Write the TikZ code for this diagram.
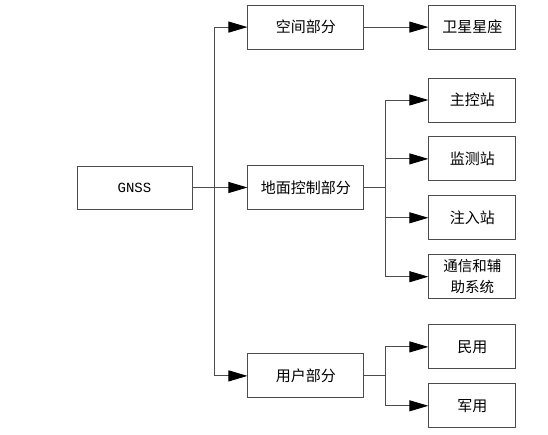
\documentclass[tikz,border=0pt]{standalone}
\usepackage{fontspec}
\setmainfont{Noto Sans CJK SC}
\newfontfamily\latinmono{Liberation Mono}
\usetikzlibrary{positioning,arrows.meta}

\tikzset{
  part/.style={draw=black!70, line width=0.9pt, minimum width=116pt, minimum height=44pt, inner sep=0pt, font=\fontsize{15}{18}\selectfont},
  leaf/.style={part, minimum width=87pt},
  link/.style={draw=black!70, line width=0.9pt, -{Triangle[length=19pt,width=11pt,color=black,fill=black]}},
}

\begin{document}
\begin{tikzpicture}[x=1pt,y=1pt]
  \useasboundingbox (0,0) rectangle (548,435);
  \node[part, minimum width=115pt, minimum height=43pt, font=\latinmono\fontsize{14}{16}\selectfont] (gnss) at (134.5,247.5) {GNSS};
  \node[part, right=55pt of gnss] (ground) {地面控制部分};
  \node[part, above=115.5pt of ground] (space) {空间部分};
  \node[part, below=143.5pt of ground] (user) {用户部分};
  \node[leaf, right=64pt of space] (sat) {卫星星座};
  \node[leaf, right=64pt of ground, yshift=87.5pt] (mcs) {主控站};
  \node[leaf, below=14pt of mcs] (mon) {监测站};
  \node[leaf, below=14pt of mon] (inj) {注入站};
  \node[leaf, below=14pt of inj, align=center, font=\fontsize{14.5}{21}\selectfont] (comm) {通信和辅\\助系统};
  \node[leaf, right=64pt of user, yshift=29pt] (civ) {民用};
  \node[leaf, below=14pt of civ] (mil) {军用};
  \draw[link] (gnss) -- (ground);
  \draw[link] (gnss.east) -- ++(22,0) |- (space.west);
  \draw[link] (gnss.east) -- ++(22,0) |- (user.west);
  \draw[link] (space) -- (sat);
  \foreach \leafname in {mcs,mon,inj,comm}
    \draw[link] (ground.east) -- ++(21,0) |- (\leafname.west);
  \foreach \leafname in {civ,mil}
    \draw[link] (user.east) -- ++(21,0) |- (\leafname.west);
\end{tikzpicture}
\end{document}
